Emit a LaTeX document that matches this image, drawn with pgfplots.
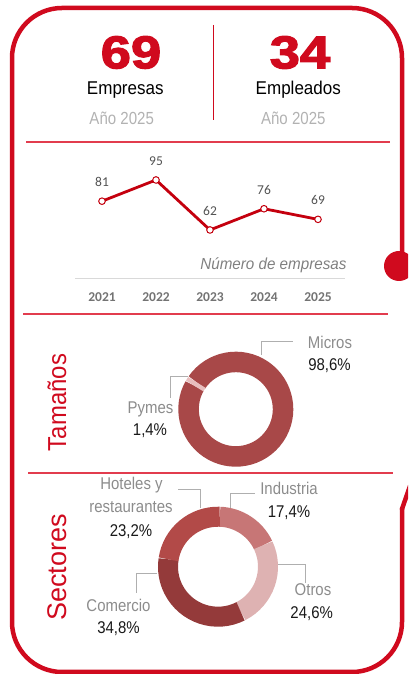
\documentclass[border=0pt]{standalone}
\usepackage{pgfplots}
\pgfplotsset{compat=1.18}
\usepackage{fontspec}
\setmainfont{Liberation Sans}
\newfontfamily\carlito{Carlito}
\newfontfamily\bignum{Liberation Sans}[BoldFeatures={FakeBold=2.5}]
\newcommand\fs[1]{\fontsize{#1}{#1}\selectfont}

\definecolor{bred}{RGB}{208,10,30}
\definecolor{lred}{RGB}{196,0,14}
\definecolor{sepred}{RGB}{226,60,78}
\definecolor{cMicros}{RGB}{168,72,72}
\definecolor{cPymes}{RGB}{232,190,190}
\definecolor{cInd}{RGB}{199,118,118}
\definecolor{cOtros}{RGB}{222,178,178}
\definecolor{cCom}{RGB}{148,58,58}
\definecolor{cHot}{RGB}{178,74,72}
\definecolor{gname}{RGB}{140,140,140}
\definecolor{gpct}{RGB}{25,25,25}
\definecolor{gyear}{RGB}{178,178,178}
\definecolor{glead}{RGB}{175,175,175}

% data
\def\TamMicros{98.6}
\def\TamPymes{1.4}
\def\SecInd{17.4}
\def\SecOtros{24.6}
\def\SecCom{34.8}
\def\SecHot{23.2}

\newcommand\lbl[4]{\node[anchor=base, inner sep=0pt, text=#3, font=\fs{17}] at (#1,#2) {\scalebox{0.88}[1]{#4}};}

\begin{document}
\begin{tikzpicture}
\pgfmathsetmacro\tA{145.5}
\pgfmathsetmacro\tB{\tA-3.6*\TamMicros}
\pgfmathsetmacro\tC{\tB-3.6*\TamPymes}
\pgfmathsetmacro\sA{88}
\pgfmathsetmacro\sB{\sA-3.6*\SecInd}
\pgfmathsetmacro\sC{\sB-3.6*\SecOtros}
\pgfmathsetmacro\sD{\sC-3.6*\SecCom}
\pgfmathsetmacro\sE{\sD-3.6*\SecHot}
\useasboundingbox (0,0) rectangle (408pt,674pt);
\clip (0,0) rectangle (408pt,674pt);

\begin{scope}[x=1pt,y=-1pt,yshift=674pt]
% frame
\draw[bred, line width=4.5pt, rounded corners=50pt] (402,508) -- (402,672) -- (12,672) -- (12,8) -- (402,8) -- (402,266);
\draw[bred, line width=4.5pt, line cap=round] (410,486) -- (402,509);
\fill[bred] (399,266) circle[radius=15pt];
% dividers
\draw[bred, line width=0.9pt] (213,25) -- (213,120);
\draw[sepred, line width=1.1pt] (26,142) -- (390,142);
\draw[sepred, line width=1.1pt] (23,314) -- (388,314);
\draw[sepred, line width=1.1pt] (28,473) -- (393,473);
% header
\node[anchor=base, inner sep=0pt, text=bred, font=\bignum\bfseries\fs{46}] at (131,68.3) {\scalebox{1.18}[1]{69}};
\node[anchor=base, inner sep=0pt, text=bred, font=\bignum\bfseries\fs{46}] at (300,68.3) {\scalebox{1.18}[1]{34}};
\node[anchor=base, inner sep=0pt, font=\fs{18.5}] at (125.3,95) {\scalebox{0.92}[1]{Empresas}};
\node[anchor=base, inner sep=0pt, font=\fs{18.5}] at (298.3,95) {\scalebox{0.92}[1]{Empleados}};
\node[anchor=base, inner sep=0pt, text=gyear, font=\fs{17.5}] at (121.7,125) {\scalebox{0.86}[1]{Año 2025}};
\node[anchor=base, inner sep=0pt, text=gyear, font=\fs{17.5}] at (293.3,125) {\scalebox{0.86}[1]{Año 2025}};
% chart caption
\node[anchor=base east, inner sep=0pt, text=black!50, font=\itshape\fs{16}] at (346.7,270) {\scalebox{0.95}[1]{Número de empresas}};
% section titles
\node[rotate=90, anchor=base, inner sep=0pt, text=bred, font=\fs{26}] at (66,402.5) {\scalebox{0.92}[1]{Tamaños}};
\node[rotate=90, anchor=base, inner sep=0pt, text=bred, font=\fs{27}] at (66.5,567.5) {\scalebox{1.0}[1]{Sectores}};
% leader lines
\draw[glead, line width=0.8pt] (261,355) -- (261,341.7) -- (293.3,341.7);
\draw[glead, line width=0.8pt] (188.3,376.7) -- (170,376.7) -- (170,398.3);
\draw[glead, line width=0.8pt] (178,489) -- (200,489) -- (200,508);
\draw[glead, line width=0.8pt] (230,508) -- (230,493.3) -- (255,493.3);
\draw[glead, line width=0.8pt] (278,564.3) -- (305,564.3) -- (305,583);
\draw[glead, line width=0.8pt] (156.7,573.3) -- (136.7,573.3) -- (136.7,593);
% labels
\lbl{330}{348.3}{gname}{Micros}
\lbl{329.5}{371}{gpct}{98,6\%}
\lbl{150.5}{413.3}{gname}{Pymes}
\lbl{150}{436}{gpct}{1,4\%}
\lbl{131.5}{490}{gname}{Hoteles y}
\lbl{131}{512.3}{gname}{restaurantes}
\lbl{131}{536.7}{gpct}{23,2\%}
\lbl{289}{494.3}{gname}{Industria}
\lbl{289}{517.3}{gpct}{17,4\%}
\lbl{313}{595.7}{gname}{Otros}
\lbl{311.7}{619}{gpct}{24,6\%}
\lbl{118.5}{611.7}{gname}{Comercio}
\lbl{118.5}{633.3}{gpct}{34,8\%}
\end{scope}

% line chart
\begin{axis}[
  at={(75pt,396pt)}, anchor=south west,
  x=54pt, y=1.515pt,
  xmin=-0.5, xmax=4.5, ymin=30.3, ymax=100,
  axis x line=bottom, axis y line=none,
  x axis line style={-, draw=black!15, line width=0.8pt},
  xtick={0,1,2,3,4}, xticklabels={2021,2022,2023,2024,2025},
  major tick length=0pt, ytick=\empty,
  xticklabel style={font=\carlito\bfseries\fs{13.5}, text=black!55, anchor=base, yshift=-23.7pt},
  clip=false,
  point meta=explicit symbolic,
  nodes near coords,
  every node near coord/.append style={font=\carlito\fs{13.5}, text=black!68, anchor=base, yshift=14.7pt},
]
\addplot[color=lred, line width=2.8pt, mark=*, mark size=3.3pt, mark options={fill=white, draw=lred, line width=1pt}]
  coordinates {(0,81) [81] (1,95) [95] (2,62) [62] (3,76) [76] (4,69) [69]};
\end{axis}

% donut: Tamaños
\begin{axis}[at={(235.8pt,264.8pt)}, anchor=center, x=1pt, y=1pt,
  xmin=-60, xmax=60, ymin=-60, ymax=60, hide axis, clip=false]
\addplot[draw=none] coordinates {(0,0)};
\draw[line width=20.5pt, cMicros] (axis cs:0,0) ++(\tA:47.25pt) arc[start angle=\tA, end angle=\tB, radius=47.25pt];
\draw[line width=20.5pt, cPymes] (axis cs:0,0) ++(\tB:47.25pt) arc[start angle=\tB, end angle=\tC, radius=47.25pt];
\end{axis}

% donut: Sectores
\begin{axis}[at={(218pt,107.3pt)}, anchor=center, x=1pt, y=1pt,
  xmin=-62, xmax=62, ymin=-62, ymax=62, hide axis, clip=false]
\addplot[draw=none] coordinates {(0,0)};
\draw[line width=20pt, cInd] (axis cs:0,0) ++(\sA:50pt) arc[start angle=\sA, end angle=\sB, radius=50pt];
\draw[line width=20pt, cOtros] (axis cs:0,0) ++(\sB:50pt) arc[start angle=\sB, end angle=\sC, radius=50pt];
\draw[line width=20pt, cCom] (axis cs:0,0) ++(\sC:50pt) arc[start angle=\sC, end angle=\sD, radius=50pt];
\draw[line width=20pt, cHot] (axis cs:0,0) ++(\sD:50pt) arc[start angle=\sD, end angle=\sE, radius=50pt];
\end{axis}
\end{tikzpicture}
\end{document}
